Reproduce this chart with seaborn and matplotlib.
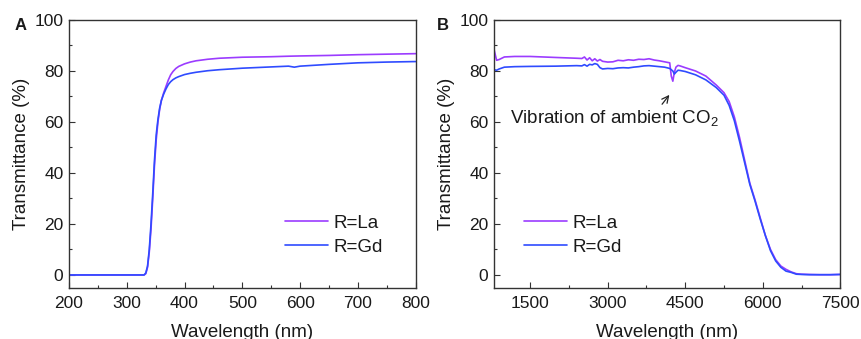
import numpy as np
import pandas as pd
import matplotlib
matplotlib.use("Agg")
import matplotlib.pyplot as plt
import seaborn as sns
from matplotlib.ticker import MultipleLocator

# ---------------- data ----------------
wl_A = [200, 300, 330, 333, 336, 339, 342, 345, 348, 351, 354, 357, 360, 364, 368,
        372, 376, 380, 385, 390, 400, 410, 420, 440, 460, 500, 550, 580, 590, 600,
        650, 700, 750, 800]
La_A = [0, 0, 0, 0.5, 3, 9, 18, 30, 43, 53, 60, 65, 68.5, 71.5, 74,
        76.5, 78.5, 79.8, 81, 81.8, 82.8, 83.5, 84, 84.6, 85, 85.4, 85.6, 85.8, 85.85, 85.9,
        86.1, 86.4, 86.6, 86.8]
Gd_A = [0, 0, 0, 0.8, 3.5, 10, 20, 32, 45, 55, 61, 65.5, 68.5, 71, 73,
        74.7, 75.8, 76.6, 77.3, 77.8, 78.6, 79.1, 79.5, 80.1, 80.5, 81.1, 81.6, 81.9, 81.5, 81.9,
        82.6, 83.2, 83.5, 83.7]

wl_B = [800, 850, 900, 1000, 1200, 1500, 2000, 2400, 2500, 2550, 2600, 2650, 2700,
        2750, 2800, 2850, 2900, 3000, 3100, 3200, 3300, 3400, 3500, 3600, 3700, 3800,
        3900, 4000, 4100, 4200, 4230, 4260, 4290, 4320, 4360, 4400, 4500, 4700, 4900,
        5100, 5250, 5350, 5450, 5550, 5650, 5750, 5850, 5950, 6050, 6150, 6250, 6350,
        6450, 6550, 6650, 6750, 6900, 7100, 7300, 7500]
La_B = [88.5, 84.2, 84.5, 85.5, 85.7, 85.7, 85.3, 85.0, 84.9, 85.5, 84.3, 85.2, 84.0,
        84.8, 83.9, 84.5, 83.8, 83.5, 83.6, 84.2, 84.0, 84.4, 84.2, 84.6, 84.5, 84.8,
        84.3, 84.0, 83.6, 83.2, 78.0, 76.0, 79.5, 81.5, 82.2, 82.0, 81.3, 80.0, 78.0,
        74.5, 71.5, 68.0, 62.0, 54.0, 45.0, 36.0, 29.5, 22.5, 15.5, 10.0, 6.0, 3.5,
        2.2, 1.2, 0.5, 0.3, 0.2, 0.1, 0.1, 0.2]
Gd_B = [80.5, 80.3, 80.8, 81.5, 81.7, 81.8, 81.9, 82.1, 82.0, 82.5, 81.9, 82.6, 82.4,
        82.9, 82.6, 81.3, 80.8, 81.0, 80.9, 81.2, 81.3, 81.2, 81.5, 81.7, 82.0, 82.1,
        81.9, 81.7, 81.5, 81.0, 80.5, 80.0, 78.8, 79.5, 80.3, 80.2, 79.8, 78.5, 76.5,
        73.5, 70.5, 66.5, 60.5, 52.5, 44.0, 35.5, 29.0, 22.0, 15.5, 9.5, 5.5, 3.0,
        1.5, 1.0, 0.3, 0.2, 0.1, 0.1, 0.1, 0.2]

series_labels = ["R=La", "R=Gd"]
colors = ["#9b3cff", "#2f4bff"]
xlabel = "Wavelength (nm)"
ylabel = "Transmittance (%)"
note = "Vibration of ambient CO$_2$"

# ---------------- style ----------------
sns.set_theme(style="white")
plt.rcParams["font.family"] = ["Liberation Sans", "DejaVu Sans"]
plt.rcParams["mathtext.fontset"] = "custom"
plt.rcParams["mathtext.rm"] = "Liberation Sans"
plt.rcParams["mathtext.it"] = "Liberation Sans:italic"
plt.rcParams["text.color"] = "#1a1a1a"
plt.rcParams["axes.labelcolor"] = "#1a1a1a"
plt.rcParams["xtick.labelcolor"] = "#1a1a1a"
plt.rcParams["ytick.labelcolor"] = "#1a1a1a"

fig = plt.figure(figsize=(8.62, 3.39), dpi=100)
axA = fig.add_axes([0.0800, 0.1513, 0.4022, 0.7897])
axB = fig.add_axes([0.5731, 0.1513, 0.4017, 0.7897])

def style(ax):
    for s in ax.spines.values():
        s.set_color("#333333")
        s.set_linewidth(1.0)
    ax.tick_params(axis="both", which="major", direction="in", length=4, width=0.8,
                   color="#333333", labelsize=12.5, pad=4, top=False, right=False,
                   bottom=True, left=True)
    ax.tick_params(axis="x", which="major", pad=6)
    ax.tick_params(axis="both", which="minor", direction="in", length=2.2, width=0.8,
                   color="#333333", top=False, right=False, bottom=True, left=True)
    ax.set_ylim(-5, 100)
    ax.yaxis.set_major_locator(MultipleLocator(20))
    ax.yaxis.set_minor_locator(MultipleLocator(10))
    ax.set_xlabel(xlabel, fontsize=13.5, labelpad=9)
    ax.set_ylabel(ylabel, fontsize=13.5, labelpad=3)

# Panel A
sns.lineplot(x=wl_A, y=La_A, ax=axA, color=colors[0], lw=1.2, label=series_labels[0], estimator=None)
sns.lineplot(x=wl_A, y=Gd_A, ax=axA, color=colors[1], lw=1.2, label=series_labels[1], estimator=None)
axA.set_xlim(200, 800)
axA.xaxis.set_major_locator(MultipleLocator(100))
axA.xaxis.set_minor_locator(MultipleLocator(50))
style(axA)
axA.legend(loc="upper left", bbox_to_anchor=(0.623, 0.272), frameon=False, fontsize=13.5,
           handlelength=2.3, handletextpad=0.3, labelspacing=0.35, borderpad=0, borderaxespad=0)

# Panel B
sns.lineplot(x=wl_B, y=La_B, ax=axB, color=colors[0], lw=1.2, label=series_labels[0], estimator=None)
sns.lineplot(x=wl_B, y=Gd_B, ax=axB, color=colors[1], lw=1.2, label=series_labels[1], estimator=None)
axB.set_xlim(800, 7500)
axB.set_xticks([1500, 3000, 4500, 6000, 7500])
axB.xaxis.set_minor_locator(MultipleLocator(750))
style(axB)
axB.legend(loc="upper left", bbox_to_anchor=(0.086, 0.272), frameon=False, fontsize=13.5,
           handlelength=2.3, handletextpad=0.3, labelspacing=0.35, borderpad=0, borderaxespad=0)
axB.annotate("", xy=(4226, 71.5), xytext=(4019, 66.1),
             arrowprops=dict(arrowstyle="->", color="#222222", lw=0.9))
axB.text(1110, 61.7, note, fontsize=13.5, va="center", ha="left", color="#1a1a1a")

fig.text(15 / 862, 1 - 25 / 339, "A", fontsize=12, fontweight="bold", va="center", ha="left")
fig.text(437 / 862, 1 - 25 / 339, "B", fontsize=12, fontweight="bold", va="center", ha="left")

fig.savefig("out.png", dpi=100)
